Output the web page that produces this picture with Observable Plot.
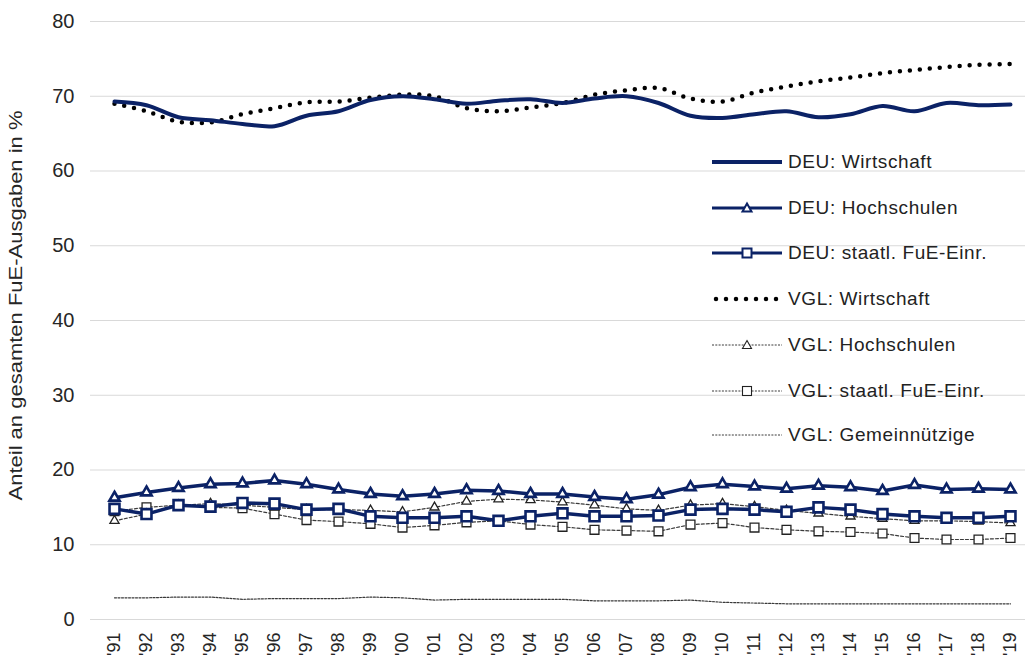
<!DOCTYPE html>
<html><head><meta charset="utf-8">
<script src="https://cdn.jsdelivr.net/npm/d3@7"></script>
<script src="https://cdn.jsdelivr.net/npm/@observablehq/plot@0.6"></script>
<style>
body{margin:0;background:#fff;font-family:"Liberation Sans",Arial,sans-serif;}
#wrap{position:relative;width:1027px;height:659px;overflow:hidden;background:#fff}
#legend{position:absolute;left:712px;top:0;}
.item{position:absolute;left:0;display:flex;align-items:center;white-space:nowrap;font-size:19px;letter-spacing:0.6px;color:#222;height:24px}
.item svg{margin-right:6px}
</style></head><body><div id="wrap"><div id="chart"></div><div id="legend"></div></div>
<script>
const years = ["'91","'92","'93","'94","'95","'96","'97","'98","'99","'00","'01","'02","'03","'04","'05","'06","'07","'08","'09","'10","'11","'12","'13","'14","'15","'16","'17","'18","'19"];
const yTicks = [0,10,20,30,40,50,60,70,80];
const yLabel = "Anteil an gesamten FuE-Ausgaben in %";
const seriesNames = ["DEU: Wirtschaft","DEU: Hochschulen","DEU: staatl. FuE-Einr.","VGL: Wirtschaft","VGL: Hochschulen","VGL: staatl. FuE-Einr.","VGL: Gemeinnützige"];
const deuWirtschaft = [69.3,68.8,67.2,66.8,66.3,66.0,67.4,68.0,69.5,70.0,69.6,69.0,69.4,69.6,69.1,69.7,70.0,69.1,67.4,67.1,67.6,68.0,67.2,67.6,68.7,68.0,69.1,68.8,68.9];
const deuHochschulen = [16.3,17.0,17.6,18.1,18.2,18.6,18.1,17.4,16.8,16.5,16.8,17.3,17.2,16.8,16.8,16.4,16.1,16.7,17.7,18.1,17.8,17.5,17.9,17.7,17.2,18.0,17.4,17.5,17.4];
const deuStaatl = [14.8,14.1,15.3,15.1,15.6,15.5,14.7,14.8,13.8,13.6,13.6,13.8,13.2,13.8,14.2,13.8,13.8,13.9,14.7,14.8,14.7,14.4,15.0,14.7,14.1,13.8,13.6,13.6,13.8];
const vglWirtschaft = [69.0,68.0,66.6,66.5,67.6,68.4,69.2,69.3,69.8,70.2,70.0,68.4,68.0,68.5,69.1,70.2,70.8,71.1,69.7,69.3,70.5,71.3,72.0,72.5,73.1,73.5,73.9,74.2,74.3];
const vglHochschulen = [13.2,14.1,15.3,15.5,15.3,15.0,14.7,14.7,14.6,14.4,15.0,15.8,16.1,16.0,15.7,15.3,14.8,14.6,15.3,15.5,15.1,14.6,14.2,13.8,13.5,13.2,13.2,13.1,12.9];
const vglStaatl = [14.5,15.0,15.3,15.0,14.9,14.1,13.3,13.1,12.8,12.3,12.6,13.0,13.2,12.7,12.4,12.0,11.9,11.8,12.7,12.9,12.3,12.0,11.8,11.7,11.5,10.9,10.7,10.7,10.9];
const vglGemein = [2.9,2.9,3.0,3.0,2.7,2.8,2.8,2.8,3.0,2.9,2.6,2.7,2.7,2.7,2.7,2.5,2.5,2.5,2.6,2.3,2.2,2.1,2.1,2.1,2.1,2.1,2.1,2.1,2.1];

const navy = "#0b2266";
const grey = "#3a3a3a";
const rows = arr => arr.map((v,i)=>({year: years[i], value: v}));

const plot = Plot.plot({
  width:1027, height:659, marginLeft:90, marginRight:2, marginTop:21, marginBottom:40,
  style:{fontFamily:"'Liberation Sans', Arial, sans-serif", color:"#262626", background:"white", overflow:"visible"},
  x:{type:"point", domain: years, padding:0, insetLeft:17, insetRight:8},
  y:{domain:[0,80]},
  marks:[
    Plot.gridY(yTicks, {stroke:"#d9d9d9", strokeOpacity:1, strokeWidth:1.2}),
    Plot.axisY(yTicks, {tickSize:0, tickPadding:16, label:null, fontSize:20}),
    Plot.axisX({tickSize:0, tickRotate:-90, tickPadding:13, label:null, fontSize:18}),
    Plot.text([yLabel], {frameAnchor:"bottom-left", dx:-69, dy:-119, rotate:-90, textAnchor:"start", fontSize:19, fill:"#262626"}),
    // VGL
    Plot.line(rows(vglGemein), {x:"year", y:"value", stroke:grey, strokeWidth:1.2, strokeDasharray:"2 1.5"}),
    Plot.line(rows(vglStaatl), {x:"year", y:"value", stroke:grey, strokeWidth:1.2, strokeDasharray:"3 2"}),
    Plot.line(rows(vglHochschulen), {x:"year", y:"value", stroke:grey, strokeWidth:1.2, strokeDasharray:"3 2"}),
    Plot.dot(rows(vglStaatl), {x:"year", y:"value", symbol:"square", r:5, fill:"white", stroke:"#222", strokeWidth:1.3}),
    Plot.dot(rows(vglHochschulen), {x:"year", y:"value", symbol:"triangle", r:3.4, fill:"white", stroke:"#222", strokeWidth:1.3}),
    Plot.line(rows(vglWirtschaft), {x:"year", y:"value", curve:"catmull-rom", stroke:"#000", strokeWidth:4.5, strokeDasharray:"0 10", strokeLinecap:"round"}),
    // DEU
    Plot.line(rows(deuStaatl), {x:"year", y:"value", stroke:navy, strokeWidth:3.5}),
    Plot.dot(rows(deuStaatl), {x:"year", y:"value", symbol:"square", r:5.6, fill:"white", stroke:navy, strokeWidth:2.6}),
    Plot.line(rows(deuHochschulen), {x:"year", y:"value", stroke:navy, strokeWidth:3.5}),
    Plot.dot(rows(deuHochschulen), {x:"year", y:"value", symbol:"triangle", r:3.8, fill:"white", stroke:navy, strokeWidth:2.6}),
    Plot.line(rows(deuWirtschaft), {x:"year", y:"value", curve:"catmull-rom", stroke:navy, strokeWidth:4})
  ]
});
document.getElementById("chart").appendChild(plot);
d3.select(plot).selectAll("text").filter(function(){return this.textContent===yLabel;})
  .attr("textLength",390).attr("lengthAdjust","spacingAndGlyphs");

// legend
const legendTops = [162,208,253,299,345,391,435];
const styles = [
  {stroke:navy, w:4, dash:null, sym:null},
  {stroke:navy, w:3, dash:null, sym:"tri", symStroke:navy, sw:2},
  {stroke:navy, w:3, dash:null, sym:"sq", symStroke:navy, sw:2},
  {stroke:"#000", w:4.5, dash:"0 10", cap:"round", sym:null},
  {stroke:grey, w:1, dash:"2 1.3", sym:"tri", symStroke:"#222", sw:1.1},
  {stroke:grey, w:1, dash:"2 1.3", sym:"sq", symStroke:"#222", sw:1.1},
  {stroke:grey, w:1, dash:"2 1.3", sym:null}
];
const leg = d3.select("#legend");
seriesNames.forEach((name,i)=>{
  const s = styles[i];
  const item = leg.append("div").attr("class","item").style("top",(legendTops[i]-12)+"px");
  const svg = item.append("svg").attr("width",70).attr("height",24);
  svg.append("line").attr("x1",s.cap?4:0).attr("x2",s.cap?66:70).attr("y1",12).attr("y2",12)
    .attr("stroke",s.stroke).attr("stroke-width",s.w).attr("stroke-dasharray",s.dash).attr("stroke-linecap",s.cap||"butt");
  if (s.sym==="tri") svg.append("path").attr("d","M35,7.5L39.5,15.5L30.5,15.5Z").attr("fill","white").attr("stroke",s.symStroke).attr("stroke-width",s.sw);
  if (s.sym==="sq") svg.append("rect").attr("x",30.5).attr("y",7.5).attr("width",9).attr("height",9).attr("fill","white").attr("stroke",s.symStroke).attr("stroke-width",s.sw);
  item.append("span").text(name);
});
</script>
</body></html>
